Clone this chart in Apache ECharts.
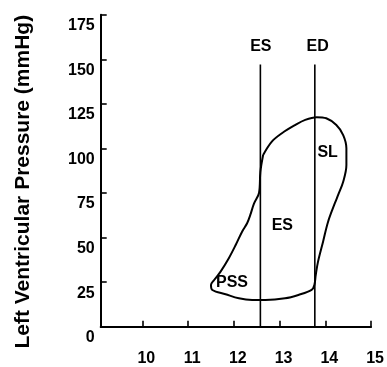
<!DOCTYPE html>
<html>
<head>
<meta charset="utf-8">
<script src="https://cdn.jsdelivr.net/npm/echarts@6/dist/echarts.min.js"></script>
<style>
  html, body { margin: 0; padding: 0; background: #fff; }
  #chart { width: 387px; height: 367px; }
</style>
</head>
<body>
<div id="chart"></div>
<script>
// Axis ticks
const xTicks = [10, 11, 12, 13, 14, 15];
const yMin = 0, yMax = 175, yStep = 25;

// Pressure–segment-length loop (mm, mmHg), traced clockwise from end-systole
const loopLength = [12.64, 12.83, 13.05, 13.34, 13.56, 13.81, 14.02, 14.24, 14.39, 14.46,
  14.46, 14.39, 14.28, 14.21, 14.06, 13.95, 13.84, 13.79, 13.76, 13.70,
  13.41, 13.12, 12.69, 12.40, 12.11, 11.82, 11.53, 11.50, 11.57, 11.71,
  11.89, 12.04, 12.18, 12.29, 12.36, 12.44, 12.55, 12.58, 12.64];
const loopPressure = [96.3, 103.8, 108.5, 113.1, 116.0, 117.5, 116.9, 113.1, 107.5, 100.1,
  90.7, 81.3, 73.9, 69.4, 58.9, 47.7, 36.5, 29.0, 23.4, 20.6,
  17.8, 15.9, 15.0, 15.0, 15.9, 18.2, 20.6, 23.4, 26.2, 30.9,
  38.4, 45.8, 53.3, 58.0, 62.7, 69.0, 75.0, 86.9, 96.3];

// End-systolic and end-diastolic segment lengths
const markerNames = ['ES', 'ED'];
const markerLength = [12.58, 13.77];
const markerTop = [147, 147];

// Text annotations
const noteText = ['ES', 'ED', 'SL', 'ES', 'PSS'];
const noteLength = [12.59, 13.83, 14.05, 13.06, 11.96];
const notePressure = [157, 157, 97.7, 56.5, 24.8];

const ink = '#000';
const chart = echarts.init(document.getElementById('chart'), null, { renderer: 'canvas' });

const loopData = loopLength.map((x, i) => [x, loopPressure[i]]);

const markerSeries = markerNames.map((name, i) => ({
  type: 'line',
  name: name,
  data: [[markerLength[i], yMin], [markerLength[i], markerTop[i]]],
  symbol: 'none',
  lineStyle: { color: ink, width: 1.6 },
  silent: true,
  z: 2
}));

chart.setOption({
  animation: false,
  backgroundColor: '#fff',
  grid: { left: 100.7, right: 13.7, top: 14.7, bottom: 40.3 },
  xAxis: {
    type: 'value',
    min: 9.09,
    max: 15,
    splitLine: { show: false },
    axisLine: { lineStyle: { color: ink, width: 2 } },
    axisTick: { inside: true, length: 6, customValues: xTicks, lineStyle: { color: ink, width: 1.6 } },
    axisLabel: {
      customValues: xTicks,
      margin: 24,
      padding: [0, 0, 0, 8],
      color: ink,
      fontFamily: 'Liberation Sans',
      fontWeight: 'bold',
      fontSize: 16
    }
  },
  yAxis: {
    type: 'value',
    min: yMin,
    max: yMax,
    interval: yStep,
    name: 'Left Ventricular Pressure (mmHg)',
    nameLocation: 'middle',
    nameGap: 67,
    nameRotate: 90,
    nameTextStyle: {
      color: ink,
      fontFamily: 'Liberation Sans',
      fontWeight: 'bold',
      fontSize: 21,
      padding: [0, 22, 0, 0]
    },
    splitLine: { show: false },
    axisLine: { lineStyle: { color: ink, width: 2 } },
    axisTick: { inside: true, length: 6, lineStyle: { color: ink, width: 1.6 } },
    axisLabel: {
      margin: 6,
      verticalAlign: 'top',
      padding: [3, 0, 0, 0],
      color: ink,
      fontFamily: 'Liberation Sans',
      fontWeight: 'bold',
      fontSize: 16
    }
  },
  series: [
    {
      type: 'line',
      name: 'loop',
      data: loopData,
      smooth: 0.35,
      symbol: 'none',
      lineStyle: { color: ink, width: 2 },
      silent: true,
      z: 3
    },
    ...markerSeries,
    {
      type: 'scatter',
      name: 'notes',
      data: noteText.map((t, i) => ({ name: t, value: [noteLength[i], notePressure[i]] })),
      symbolSize: 0,
      itemStyle: { color: ink, opacity: 1 },
      silent: true,
      label: {
        show: true,
        position: 'inside',
        formatter: p => p.name,
        color: ink,
        opacity: 1,
        textBorderWidth: 0,
        fontFamily: 'Liberation Sans',
        fontWeight: 'bold',
        fontSize: 16
      },
      z: 4
    }
  ]
});
</script>
</body>
</html>
